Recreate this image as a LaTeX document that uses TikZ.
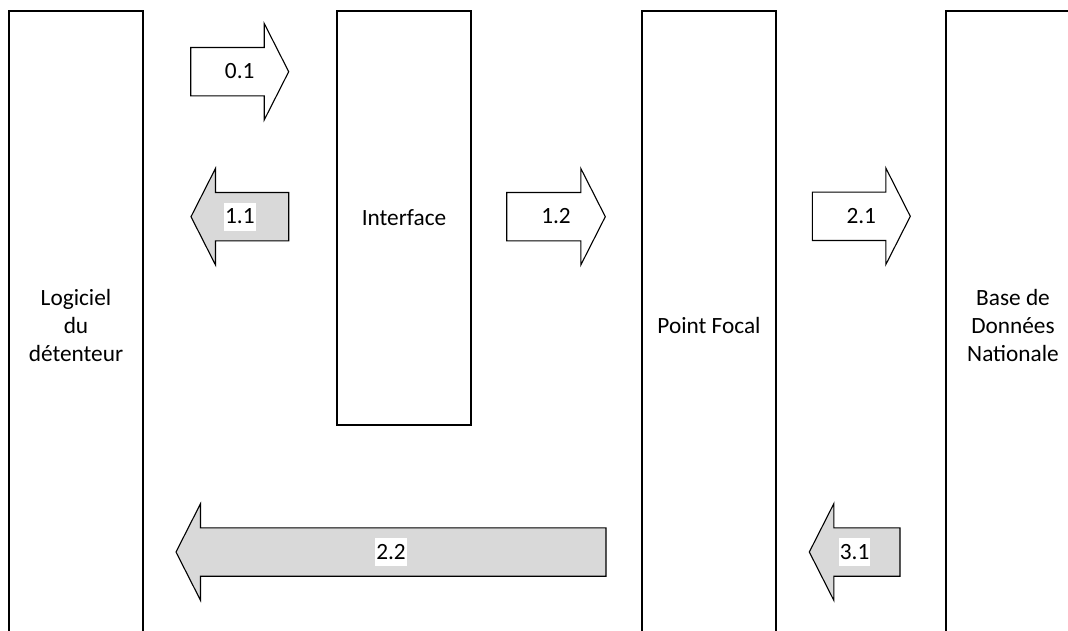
\documentclass[tikz,border=0pt]{standalone}
\usepackage{fontspec}
\setmainfont{Carlito}
\definecolor{flowgray}{HTML}{D9D9D9}
% block arrow: style, name, tail x, tip x, y, label
\newcommand{\flowarrow}[6]{%
  \pgfmathsetmacro{\headx}{#4-24.5*sign(#4-#3)}
  \draw[#1] (#3,#5-24.2) -- (\headx,#5-24.2) -- (\headx,#5-48.3) -- (#4,#5)
        -- (\headx,#5+48.3) -- (\headx,#5+24.2) -- (#3,#5+24.2) -- cycle;
  \node[lbl] (#2) at ({(#3+#4)/2},#5) {#6};
}
\begin{document}
\begin{tikzpicture}[x=1pt,y=-1pt,line width=1.1pt,font=\fontsize{23.3}{28.4}\selectfont]
	\tikzstyle{box}=[draw, minimum width=134pt, align=center, inner sep=0pt]
	\tikzstyle{lbl}=[inner xsep=1pt, inner ysep=0pt, text height=21pt, text depth=7pt, fill=white]
	\tikzstyle{fwd}=[draw, fill=white]
	\tikzstyle{bwd}=[draw, fill=flowgray]
	\useasboundingbox (0,0) rectangle (1068,630);
	\clip (0,0) rectangle (1068,630);
	% columns
	\path (76,325.5) node[box, minimum height=629pt] (logi) {Logiciel\\du\\détenteur}
	      (404,218) node[box, minimum height=414pt] (inter) {Interface}
	      (709,325.5) node[box, minimum height=629pt] (focal) {Point Focal}
	      (1013,325.5) node[box, minimum height=629pt] (base) {Base de\\Données\\Nationale};
	% exchanges
	\flowarrow{fwd}{f01}{190.7}{288.7}{71.7}{0.1}
	\flowarrow{bwd}{f11}{288.7}{191}{216.7}{1.1}
	\flowarrow{fwd}{f12}{506.7}{605.3}{216.7}{1.2}
	\flowarrow{fwd}{f21}{812.3}{910.3}{216.3}{2.1}
	\flowarrow{bwd}{f22}{606}{176}{552}{2.2}
	\flowarrow{bwd}{f31}{900}{809.3}{552}{3.1}
\end{tikzpicture}
\end{document}
